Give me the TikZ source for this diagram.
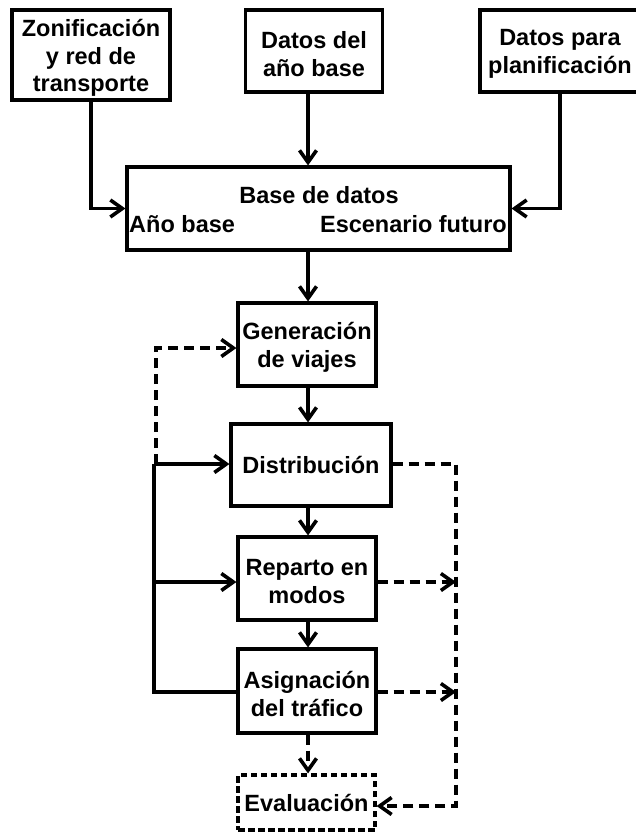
\documentclass[tikz,border=0pt]{standalone}
\usepackage{fontspec}
\setmainfont{Liberation Sans}
\usetikzlibrary{arrows.meta,calc}
\begin{document}
\begin{tikzpicture}[x=1pt,y=-1pt,
  txt/.style={inner sep=0pt, align=center, font=\bfseries\fontsize{23.5}{27.5}\selectfont},
  box/.style={draw, line width=3.1pt, inner sep=0pt},
  dbox/.style={box, dash pattern=on 6.5pt off 3.5pt},
  inbox/.style={txt, yshift=-3pt},
  line/.style={line width=3.6pt, line join=miter},
  flow/.style={line, -{Straight Barb[length=12pt,width=17pt]}},
  dline/.style={line, dash pattern=on 10pt off 6pt},
  dflow/.style={dline, -{Straight Barb[length=12pt,width=17pt]}}
]
\useasboundingbox (0,0) rectangle (635,832);

% input data
\node[box, minimum width=158pt, minimum height=90pt] (zon) at (91,55) {};
\node[inbox] (zont) at (zon.center) {Zonificación\\y red de\\transporte};
\node[box, minimum width=137pt, minimum height=82pt] (anio) at (314,51) {};
\node[inbox] (aniot) at (anio.center) {Datos del\\año base};
\node[box, minimum width=160pt, minimum height=82pt] (plan) at (560,51) {};
\node[inbox] (plant) at (plan.center) {Datos para\\planificación};

% database
\node[box, minimum width=383pt, minimum height=83pt] (base) at (318.5,208.5) {};
\node[txt, anchor=base] (bt) at (319,203) {Base de datos};
\node[txt, anchor=base west] (ba) at (129,232) {Año base};
\node[txt, anchor=base east] (be) at (507,232) {Escenario futuro};

% four-stage model
\node[box, minimum width=138pt, minimum height=83pt] (gen) at (307,344.5) {};
\node[inbox] (gent) at (gen.center) {Generación\\de viajes};
\node[box, minimum width=160pt, minimum height=82pt] (dis) at (311,465) {};
\node[txt] (dist) at (dis.center) {Distribución};
\node[box, minimum width=138pt, minimum height=83pt] (rep) at (307,578.5) {};
\node[inbox] (rept) at (rep.center) {Reparto en\\modos};
\node[box, minimum width=138pt, minimum height=84pt] (asi) at (307,691) {};
\node[inbox] (asit) at (asi.center) {Asignación\\del tráfico};
\node[dbox, minimum width=137pt, minimum height=55pt] (eva) at (306.5,802.5) {};
\node[txt] (evat) at (eva.center) {Evaluación};

% main axis
\coordinate (axis) at (308,0);
\draw[flow] (anio.south -| axis) -- (base.north -| axis);
\draw[flow] (zon.south) |- (base.west);
\draw[flow] (plan.south) |- (base.east);
\draw[flow] (base.south -| axis) -- (gen.north -| axis);
\draw[flow] (gen.south -| axis) -- (dis.north -| axis);
\draw[flow] (dis.south -| axis) -- (rep.north -| axis);
\draw[flow] (rep.south -| axis) -- (asi.north -| axis);
\draw[dflow] (asi.south -| axis) -- (eva.north -| axis);

% feedback loop on the left
\coordinate (lt) at (154,464);
\coordinate (lm) at (154,582);
\coordinate (lb) at (154,692);
\draw[line] (asi.west |- lb) -- (lb) -- (lt);
\draw[flow] (lt) -- (dis.west |- lt);
\draw[flow] (lm) -- (rep.west |- lm);
\coordinate (dt) at (156,348);
\coordinate (db) at (156,464);
\draw[dflow] (db) -- (dt) -- (gen.west |- dt);

% outputs to evaluation on the right
\coordinate (rt) at (456,464);
\coordinate (rm) at (456,582);
\coordinate (ra) at (456,692);
\coordinate (rb) at (456,806);
\draw[dflow] (dis.east |- rt) -- (rt) -- (rb) -- (eva.east |- rb);
\draw[dflow] (rep.east |- rm) -- (rm);
\draw[dflow] (asi.east |- ra) -- (ra);
\end{tikzpicture}
\end{document}
